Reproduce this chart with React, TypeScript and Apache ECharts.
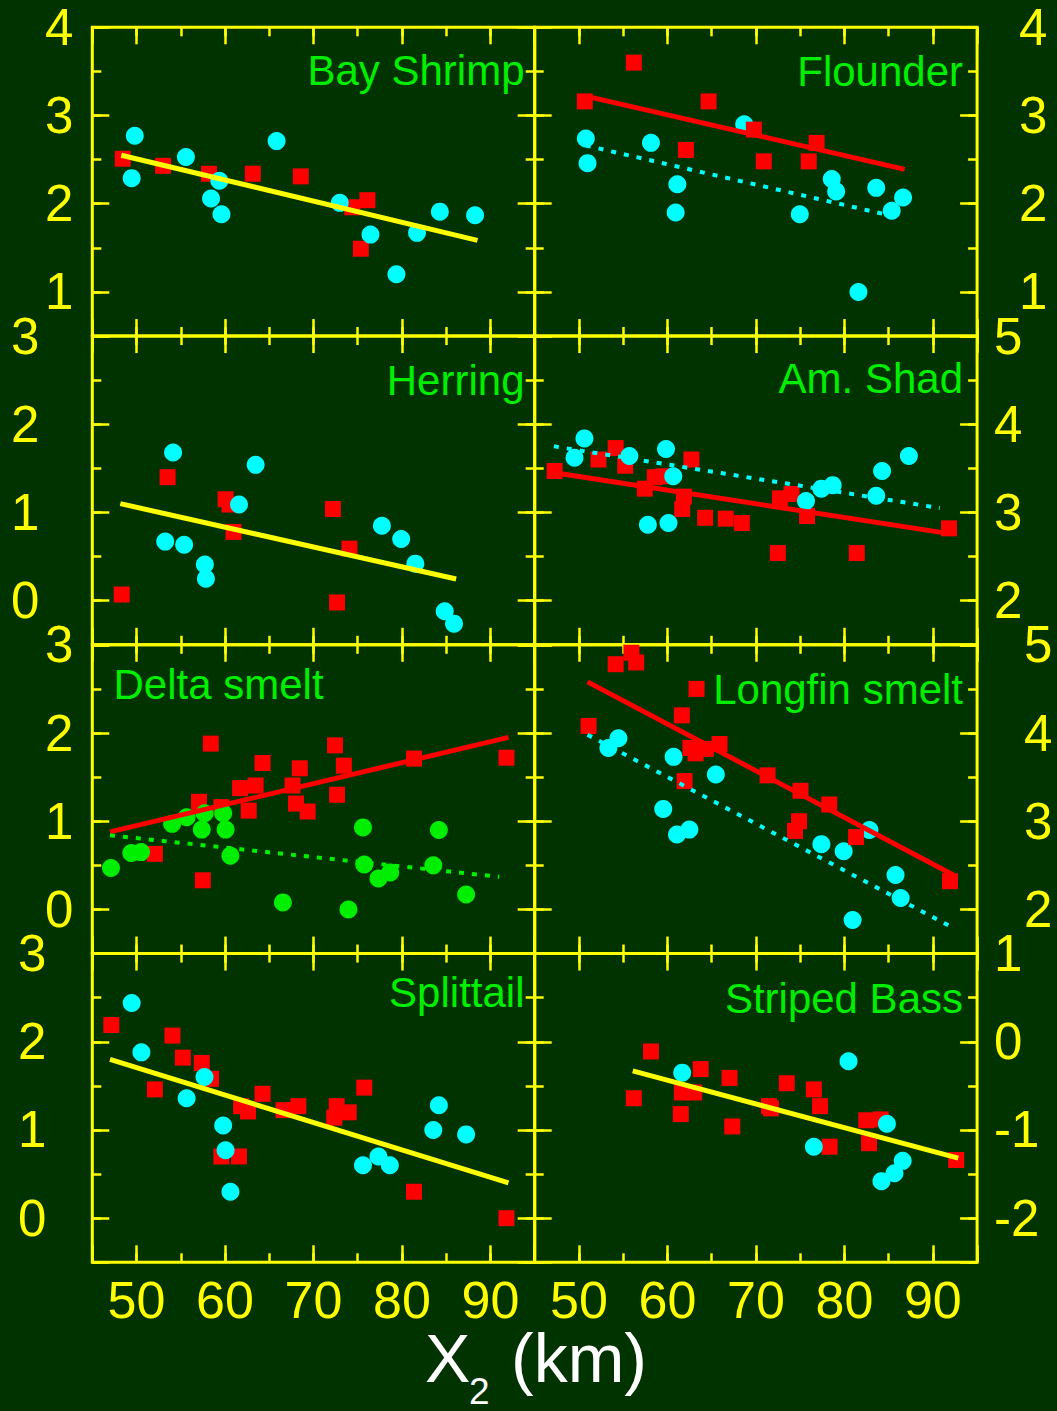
import React, { useEffect, useRef } from "react";
import * as echarts from "echarts";

type Pt = [number, number];

// ---- Bay Shrimp ----
const bayShrimpCircles: Pt[] = [
  [49.8, 2.77], [49.45, 2.29], [55.58, 2.53], [65.83, 2.71], [59.36, 2.26], [58.42, 2.06],
  [59.6, 1.88], [72.97, 2.01], [76.44, 1.65], [79.37, 1.2], [81.7, 1.67], [84.28, 1.91], [88.26, 1.87],
];
const bayShrimpSquares: Pt[] = [
  [48.44, 2.51], [53.0, 2.43], [58.19, 2.34], [63.14, 2.34], [68.56, 2.31], [74.38, 1.96], [76.09, 2.04], [75.35, 1.49],
];
const bayShrimpFit: Pt[] = [[48.28, 2.55], [88.53, 1.585]];

// ---- Flounder ----
const flounderSquares: Pt[] = [
  [50.66, 3.16], [56.2, 3.6], [64.65, 3.16], [69.77, 2.84], [62.09, 2.61], [70.89, 2.48], [76.86, 2.69], [75.97, 2.48],
];
const flounderCircles: Pt[] = [
  [50.78, 2.74], [50.97, 2.46], [58.14, 2.69], [68.68, 2.9], [61.12, 2.22], [60.93, 1.9], [74.96, 1.88],
  [78.57, 2.28], [79.07, 2.14], [83.6, 2.18], [86.63, 2.07], [85.35, 1.92], [81.59, 1.0],
];
const flounderSquareFit: Pt[] = [[50.78, 3.22], [86.82, 2.39]];
const flounderCircleFit: Pt[] = [[50.78, 2.66], [85.47, 1.86]];

// ---- Herring ----
const herringSquares: Pt[] = [
  [48.32, 0.07], [53.51, 1.4], [60.06, 1.15], [60.5, 1.09], [60.96, 0.78], [72.19, 1.04], [74.06, 0.59], [72.66, -0.02],
];
const herringCircles: Pt[] = [
  [54.13, 1.68], [63.46, 1.54], [61.58, 1.09], [53.24, 0.67], [55.38, 0.635], [57.72, 0.41], [57.84, 0.25],
  [77.73, 0.85], [79.91, 0.7], [81.51, 0.42], [84.83, -0.12], [85.88, -0.26],
];
const herringFit: Pt[] = [[48.17, 1.1], [86.12, 0.246]];

// ---- Am. Shad ----
const shadSquares: Pt[] = [
  [47.25, 3.47], [52.21, 3.6], [54.15, 3.73], [55.23, 3.53], [57.44, 3.27], [58.57, 3.4], [59.53, 3.41],
  [62.71, 3.6], [61.86, 3.18], [61.67, 3.04], [64.26, 2.94], [66.59, 2.93], [68.41, 2.88], [72.71, 3.16],
  [74.03, 3.21], [72.48, 2.54], [75.78, 2.96], [81.4, 2.54], [91.82, 2.82],
];
const shadCircles: Pt[] = [
  [50.62, 3.84], [49.5, 3.62], [55.7, 3.64], [59.84, 3.72], [60.66, 3.41], [57.79, 2.86], [60.12, 2.88],
  [75.66, 3.13], [77.4, 3.27], [78.68, 3.31], [83.6, 3.19], [84.26, 3.47], [87.29, 3.64],
];
const shadSquareFit: Pt[] = [[47.25, 3.45], [91.86, 2.76]];
const shadCircleFit: Pt[] = [[47.17, 3.75], [90.78, 3.05]];

// ---- Delta smelt ----
const deltaSquares: Pt[] = [
  [58.39, 1.88], [72.43, 1.86], [64.24, 1.66], [68.45, 1.6], [73.43, 1.63], [81.36, 1.71], [91.81, 1.72],
  [61.7, 1.375], [63.46, 1.405], [67.63, 1.405], [72.66, 1.3], [57.06, 1.22], [59.59, 1.16], [62.68, 1.12],
  [68.02, 1.2], [69.34, 1.11], [52.07, 0.63], [57.49, 0.33],
];
const deltaCircles: Pt[] = [
  [47.11, 0.47], [49.41, 0.64], [50.51, 0.65], [54.02, 0.97], [55.66, 1.045], [57.69, 1.09], [59.79, 1.09],
  [57.37, 0.905], [60.06, 0.905], [60.61, 0.61], [66.54, 0.08], [73.95, 0.0], [75.59, 0.93], [75.74, 0.51],
  [77.34, 0.35], [78.67, 0.42], [83.54, 0.5], [84.17, 0.9], [87.25, 0.17],
];
const deltaSquareFit: Pt[] = [[47, 0.88], [92.04, 1.95]];
const deltaCircleFit: Pt[] = [[47, 0.84], [91, 0.37]];

// ---- Longfin smelt ----
const longfinSquares: Pt[] = [
  [54.15, 4.78], [55.93, 4.91], [56.47, 4.8], [63.29, 4.5], [61.63, 4.2], [51.09, 4.08], [62.6, 3.83],
  [63.18, 3.77], [64.34, 3.82], [65.89, 3.875], [71.32, 3.52], [61.94, 3.455], [75.04, 3.345], [78.29, 3.19],
  [74.88, 3.0], [74.42, 2.89], [81.32, 2.82], [91.94, 2.32],
];
const longfinCircles: Pt[] = [
  [54.46, 3.94], [53.33, 3.83], [60.7, 3.73], [65.47, 3.53], [59.53, 3.14], [61.08, 2.85], [62.48, 2.905],
  [77.4, 2.74], [79.92, 2.66], [82.83, 2.9], [85.78, 2.39], [86.36, 2.13], [80.93, 1.88],
];
const longfinSquareFit: Pt[] = [[50.97, 4.58], [92.33, 2.39]];
const longfinCircleFit: Pt[] = [[50.97, 3.98], [91.94, 1.81]];

// ---- Splittail ----
const splittailSquares: Pt[] = [
  [47.15, 2.19], [54.06, 2.07], [55.23, 1.82], [57.37, 1.76], [58.42, 1.58], [52.07, 1.46], [61.82, 1.27],
  [62.6, 1.21], [64.24, 1.41], [66.61, 1.225], [68.29, 1.27], [72.62, 1.27], [72.35, 1.14], [73.98, 1.2],
  [75.74, 1.48], [59.59, 0.7], [61.58, 0.7], [81.36, 0.3], [91.81, 0.0],
];
const splittailCircles: Pt[] = [
  [49.45, 2.44], [50.55, 1.88], [57.68, 1.6], [55.66, 1.36], [59.79, 1.05], [60.06, 0.77], [60.61, 0.3],
  [75.59, 0.6], [77.34, 0.7], [78.63, 0.6], [83.54, 1.0], [84.17, 1.28], [87.25, 0.95],
];
const splittailFit: Pt[] = [[47, 1.8], [92.04, 0.4]];

// ---- Striped Bass ----
const bassSquares: Pt[] = [
  [58.14, -0.11], [63.76, -0.31], [67.02, -0.41], [73.49, -0.47], [76.55, -0.54], [56.2, -0.64],
  [61.63, -0.575], [63.02, -0.575], [71.47, -0.73], [71.7, -0.755], [77.25, -0.73], [61.51, -0.82],
  [67.33, -0.96], [82.48, -0.89], [84.11, -0.88], [82.79, -1.15], [78.33, -1.19], [92.64, -1.34],
];
const bassCircles: Pt[] = [
  [61.67, -0.35], [80.47, -0.22], [84.81, -0.93], [76.55, -1.19], [86.59, -1.35], [85.66, -1.49], [84.19, -1.58],
];
const bassFit: Pt[] = [[56.08, -0.33], [92.87, -1.32]];

// Axis ranges and tick steps
const X_RANGE: Pt = [45, 95];
const X_MAJOR = 10;
const X_MINOR = 5;
const Y_MAJOR = 1;
const Y_MINOR = 0.5;

// Colours
const BG = "#003300";
const FRAME = "#ffff00";
const RED = "#ff0000";
const CYAN = "#00ffff";
const GREEN = "#00ee00";
const FIT_YELLOW = "#ffff00";
const FONT = "'Liberation Sans', Arial, Helvetica, sans-serif";

interface Fit { data: Pt[]; color: string; dotted?: boolean }
interface Panel {
  name: string;
  col: number;
  row: number;
  yMin: number;
  yMax: number;
  labelMargin: number;
  squares: Pt[];
  circles: Pt[];
  circleColor: string;
  squaresOnTop: boolean;
  fits: Fit[];
  titleX: number;
  titleY: number;
  titleAlign: "left" | "right";
}

const panels: Panel[] = [
  {
    name: "Bay Shrimp", col: 0, row: 0, yMin: 0.5, yMax: 4, labelMargin: 19,
    squares: bayShrimpSquares, circles: bayShrimpCircles, circleColor: CYAN, squaresOnTop: false,
    fits: [{ data: bayShrimpFit, color: FIT_YELLOW }],
    titleX: 524.5, titleY: 70.4, titleAlign: "right",
  },
  {
    name: "Flounder", col: 1, row: 0, yMin: 0.5, yMax: 4, labelMargin: 42,
    squares: flounderSquares, circles: flounderCircles, circleColor: CYAN, squaresOnTop: true,
    fits: [{ data: flounderSquareFit, color: RED }, { data: flounderCircleFit, color: CYAN, dotted: true }],
    titleX: 963, titleY: 71.5, titleAlign: "right",
  },
  {
    name: "Herring", col: 0, row: 1, yMin: -0.5, yMax: 3, labelMargin: 53,
    squares: herringSquares, circles: herringCircles, circleColor: CYAN, squaresOnTop: false,
    fits: [{ data: herringFit, color: FIT_YELLOW }],
    titleX: 524.5, titleY: 380.4, titleAlign: "right",
  },
  {
    name: "Am. Shad", col: 1, row: 1, yMin: 1.5, yMax: 5, labelMargin: 17,
    squares: shadSquares, circles: shadCircles, circleColor: CYAN, squaresOnTop: false,
    fits: [{ data: shadSquareFit, color: RED }, { data: shadCircleFit, color: CYAN, dotted: true }],
    titleX: 963, titleY: 378, titleAlign: "right",
  },
  {
    name: "Delta smelt", col: 0, row: 2, yMin: -0.5, yMax: 3, labelMargin: 19,
    squares: deltaSquares, circles: deltaCircles, circleColor: GREEN, squaresOnTop: false,
    fits: [{ data: deltaSquareFit, color: RED }, { data: deltaCircleFit, color: GREEN, dotted: true }],
    titleX: 113.5, titleY: 684.4, titleAlign: "left",
  },
  {
    name: "Longfin smelt", col: 1, row: 2, yMin: 1.5, yMax: 5, labelMargin: 47,
    squares: longfinSquares, circles: longfinCircles, circleColor: CYAN, squaresOnTop: true,
    fits: [{ data: longfinSquareFit, color: RED }, { data: longfinCircleFit, color: CYAN, dotted: true }],
    titleX: 963, titleY: 689.4, titleAlign: "right",
  },
  {
    name: "Splittail", col: 0, row: 3, yMin: -0.5, yMax: 3, labelMargin: 46,
    squares: splittailSquares, circles: splittailCircles, circleColor: CYAN, squaresOnTop: false,
    fits: [{ data: splittailFit, color: FIT_YELLOW }],
    titleX: 524.5, titleY: 992, titleAlign: "right",
  },
  {
    name: "Striped Bass", col: 1, row: 3, yMin: -2.5, yMax: 1, labelMargin: 17,
    squares: bassSquares, circles: bassCircles, circleColor: CYAN, squaresOnTop: false,
    fits: [{ data: bassFit, color: FIT_YELLOW }],
    titleX: 963, titleY: 998.4, titleAlign: "right",
  },
];

// Layout of the 2 x 4 panel grid (pixels)
const COL_X = [92.3, 534.7];
const COL_W = 442.4;
const ROW_Y = [27.3, 336.05, 644.8, 953.55];
const ROW_H = 308.75;
const LAST_ROW = 3;

const MAJOR_LEN = 17;
const MINOR_LEN = 9;
const TICK_W = 2.5;

function tickAxis(
  gridIndex: number,
  position: string,
  range: Pt,
  major: boolean,
  step: number,
  label: any,
) {
  const axis: any = {
    type: "value",
    gridIndex,
    position,
    min: range[0],
    max: range[1],
    splitLine: { show: false },
    axisLine: { show: false, onZero: false },
    axisTick: {
      show: true,
      inside: true,
      length: major ? MAJOR_LEN : MINOR_LEN,
      lineStyle: { color: FRAME, width: TICK_W },
    },
    axisLabel: label || { show: false },
    silent: true,
  };
  if (major) {
    // integer-aligned major ticks whatever the axis minimum is
    axis.minInterval = step;
    axis.maxInterval = step;
    axis.splitNumber = 4;
  } else {
    axis.interval = step;
  }
  return axis;
}

function buildOption() {
  const grid: any[] = [];
  const xAxis: any[] = [];
  const yAxis: any[] = [];
  const series: any[] = [];
  const graphic: any[] = [];

  panels.forEach((p, i) => {
    grid.push({
      left: COL_X[p.col],
      top: ROW_Y[p.row],
      width: COL_W,
      height: ROW_H,
      show: true,
      borderColor: FRAME,
      borderWidth: 3,
      backgroundColor: "transparent",
      containLabel: false,
      outerBoundsMode: "none",
    });

    const yRange: Pt = [p.yMin, p.yMax];
    const xLabel = p.row === LAST_ROW
      ? {
          show: true,
          color: FRAME,
          fontSize: 52,
          lineHeight: 40,
          fontFamily: FONT,
          margin: 18,
          showMinLabel: true,
          showMaxLabel: true,
          formatter: (v: number) => (v % X_MAJOR === 0 ? String(v) : ""),
        }
      : null;
    const yLabel = {
      show: true,
      color: FRAME,
      fontSize: 51,
      fontFamily: FONT,
      margin: p.labelMargin,
      showMinLabel: true,
      showMaxLabel: true,
      formatter: (v: number) => (Number.isInteger(v) ? String(v) : ""),
    };

    // x axes: bottom major, bottom minor, top major, top minor
    xAxis.push(tickAxis(i, "bottom", X_RANGE, true, X_MAJOR, xLabel));
    xAxis.push(tickAxis(i, "bottom", X_RANGE, false, X_MINOR, null));
    xAxis.push(tickAxis(i, "top", X_RANGE, true, X_MAJOR, null));
    xAxis.push(tickAxis(i, "top", X_RANGE, false, X_MINOR, null));
    // y axes: left major, left minor, right major, right minor
    yAxis.push(tickAxis(i, "left", yRange, true, Y_MAJOR, p.col === 0 ? yLabel : null));
    yAxis.push(tickAxis(i, "left", yRange, false, Y_MINOR, null));
    yAxis.push(tickAxis(i, "right", yRange, true, Y_MAJOR, p.col === 1 ? yLabel : null));
    yAxis.push(tickAxis(i, "right", yRange, false, Y_MINOR, null));

    const xi = 4 * i;
    const yi = 4 * i;
    const squareSeries = {
      type: "scatter",
      name: p.name + " squares",
      xAxisIndex: xi,
      yAxisIndex: yi,
      data: p.squares,
      symbol: "rect",
      symbolSize: 16,
      itemStyle: { color: RED, opacity: 1 },
      silent: true,
    };
    const circleSeries = {
      type: "scatter",
      name: p.name + " circles",
      xAxisIndex: xi,
      yAxisIndex: yi,
      data: p.circles,
      symbol: "circle",
      symbolSize: 18,
      itemStyle: { color: p.circleColor, opacity: 1 },
      silent: true,
    };
    if (p.squaresOnTop) series.push(circleSeries, squareSeries);
    else series.push(squareSeries, circleSeries);

    p.fits.forEach((f) => {
      series.push({
        type: "line",
        xAxisIndex: xi,
        yAxisIndex: yi,
        data: f.data,
        symbol: "none",
        showSymbol: false,
        silent: true,
        lineStyle: {
          color: f.color,
          width: f.dotted ? 4 : 5,
          type: f.dotted ? [5, 8] : "solid",
          cap: "butt",
        },
      });
    });

    graphic.push({
      type: "text",
      x: p.titleX,
      y: p.titleY,
      silent: true,
      style: {
        text: p.name,
        fill: GREEN,
        font: `42px ${FONT}`,
        lineHeight: 42,
        textAlign: p.titleAlign,
        textVerticalAlign: "middle",
      },
    });
  });

  // Axis title: X₂ (km)
  graphic.push(
    {
      type: "text", x: 425, y: 1358.4, silent: true,
      style: { text: "X", fill: "#ffffff", font: `68px ${FONT}`, lineHeight: 50, textAlign: "left", textVerticalAlign: "middle" },
    },
    {
      type: "text", x: 469, y: 1391.5, silent: true,
      style: { text: "2", fill: "#ffffff", font: `37px ${FONT}`, lineHeight: 28, textAlign: "left", textVerticalAlign: "middle" },
    },
    {
      type: "text", x: 511, y: 1358.4, silent: true,
      style: { text: "(km)", fill: "#ffffff", font: `68px ${FONT}`, lineHeight: 50, textAlign: "left", textVerticalAlign: "middle" },
    },
  );

  return {
    animation: false,
    backgroundColor: BG,
    grid,
    xAxis,
    yAxis,
    series,
    graphic,
  };
}

export default function App() {
  const ref = useRef<HTMLDivElement>(null);
  useEffect(() => {
    if (!ref.current) return;
    const chart = echarts.init(ref.current, undefined, { renderer: "svg" });
    chart.setOption(buildOption() as any);
    return () => chart.dispose();
  }, []);
  return (
    <div
      ref={ref}
      style={{ position: "absolute", left: 0, top: 0, width: 1057, height: 1411, background: BG }}
    />
  );
}
